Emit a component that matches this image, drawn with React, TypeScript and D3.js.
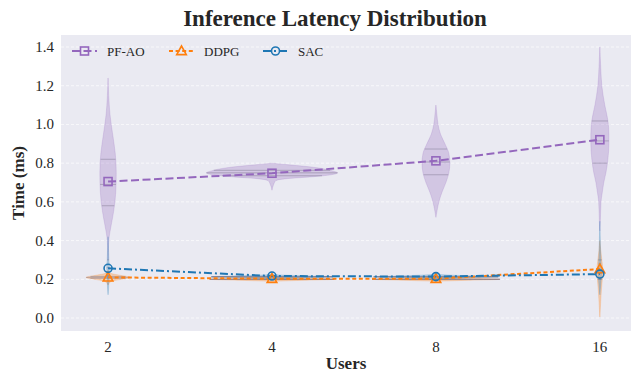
import React, { useMemo } from 'react';
import * as d3 from 'd3';

type Profile = [number, number][]; // [time value, half width as a fraction of one category step]

const users = ['2', '4', '8', '16'];
const yTicks = [0, 0.2, 0.4, 0.6, 0.8, 1.0, 1.2, 1.4];

const pfaoMeans = [0.705, 0.748, 0.812, 0.921];
const ddpgMeans = [0.21, 0.203, 0.203, 0.253];
const sacMeans = [0.257, 0.217, 0.214, 0.227];

const pfaoViolins: Profile[] = [
  [[1.24, 0], [1.15, 0.004], [1.05, 0.012], [0.95, 0.028], [0.85, 0.044], [0.75, 0.05], [0.65, 0.047], [0.55, 0.034], [0.47, 0.017], [0.42, 0.007], [0.36, 0.002], [0.3, 0]],
  [[0.8, 0], [0.79, 0.12], [0.78, 0.24], [0.77, 0.32], [0.76, 0.37], [0.75, 0.4], [0.74, 0.36], [0.73, 0.25], [0.72, 0.09], [0.71, 0.024], [0.69, 0.01], [0.66, 0]],
  [[1.1, 0], [1.05, 0.006], [1.0, 0.013], [0.95, 0.028], [0.9, 0.055], [0.85, 0.079], [0.8, 0.085], [0.75, 0.079], [0.7, 0.061], [0.65, 0.037], [0.6, 0.018], [0.55, 0.006], [0.52, 0]],
  [[1.4, 0], [1.3, 0.005], [1.2, 0.012], [1.1, 0.03], [1.02, 0.049], [0.95, 0.055], [0.9, 0.055], [0.82, 0.049], [0.75, 0.037], [0.7, 0.024], [0.65, 0.015], [0.6, 0.007], [0.5, 0.003], [0.45, 0]],
];
const pfaoQuartiles = [[0.58, 0.69, 0.82], [0.735, 0.75, 0.763], [0.74, 0.806, 0.873], [0.8, 0.915, 1.018]];

const ddpgViolins: Profile[] = [
  [[0.245, 0], [0.23, 0.02], [0.22, 0.08], [0.21, 0.134], [0.2, 0.08], [0.19, 0.02], [0.17, 0]],
  [[0.212, 0], [0.206, 0.2], [0.2, 0.38], [0.195, 0.2], [0.19, 0]],
  [[0.212, 0], [0.206, 0.2], [0.2, 0.39], [0.195, 0.2], [0.19, 0]],
  [[0.4, 0], [0.35, 0.005], [0.3, 0.012], [0.25, 0.018], [0.2, 0.015], [0.15, 0.01], [0.1, 0.006], [0.05, 0.003], [0.005, 0]],
];
const ddpgQuartiles = [[0.205, 0.21, 0.215], [0.2, 0.2, 0.2], [0.2, 0.2, 0.2], [0.2, 0.25, 0.3]];

const sacViolins: Profile[] = [
  [[0.42, 0], [0.35, 0.003], [0.3, 0.005], [0.26, 0.008], [0.2, 0.005], [0.15, 0.003], [0.12, 0]],
  [[0.24, 0], [0.225, 0.01], [0.218, 0.2], [0.213, 0.37], [0.208, 0.2], [0.2, 0]],
  [[0.225, 0], [0.218, 0.2], [0.213, 0.38], [0.208, 0.2], [0.2, 0]],
  [[0.5, 0], [0.4, 0.003], [0.3, 0.006], [0.23, 0.01], [0.18, 0.006], [0.12, 0]],
];
const sacQuartiles = [[0.22, 0.26, 0.3], [0.213, 0.213, 0.213], [0.213, 0.213, 0.213], [0.2, 0.23, 0.28]];

const W = 631;
const H = 372;
const plot = { left: 61, right: 631, top: 35, bottom: 331 };

const series = [
  { name: 'PF-AO', color: '#9467bd', means: pfaoMeans, violins: pfaoViolins, quartiles: pfaoQuartiles, dash: '8,3.5', marker: 'square' },
  { name: 'DDPG', color: '#ff7f0e', means: ddpgMeans, violins: ddpgViolins, quartiles: ddpgQuartiles, dash: '4,2.6', marker: 'triangle' },
  { name: 'SAC', color: '#1f77b4', means: sacMeans, violins: sacViolins, quartiles: sacQuartiles, dash: '8,3,2,3', marker: 'circle' },
];

const serif = '"Liberation Serif", "Times New Roman", serif';

const halfWidthAt = (p: Profile, v: number) => {
  for (let i = 0; i < p.length - 1; i++) {
    const [a, wa] = p[i];
    const [b, wb] = p[i + 1];
    if (v <= a && v >= b) return a === b ? wa : wa + ((a - v) / (a - b)) * (wb - wa);
  }
  return 0;
};

const Marker: React.FC<{ kind: string; x: number; y: number; color: string }> = ({ kind, x, y, color }) => {
  if (kind === 'square') {
    return <rect x={x - 4} y={y - 4} width={8} height={8} fill="none" stroke={color} strokeWidth={1.6} />;
  }
  if (kind === 'triangle') {
    return <path d={`M${x},${y - 5} L${x + 4.8},${y + 3.6} L${x - 4.8},${y + 3.6} Z`} fill="none" stroke={color} strokeWidth={1.6} />;
  }
  return <circle cx={x} cy={y} r={4} fill="none" stroke={color} strokeWidth={1.6} />;
};

const App: React.FC = () => {
  const x = useMemo(() => d3.scaleLinear().domain([-0.287, 3.19]).range([plot.left, plot.right]), []);
  const y = useMemo(() => d3.scaleLinear().domain([-0.067, 1.462]).range([plot.bottom, plot.top]), []);
  const step = x(1) - x(0);

  const line = d3.line<number>()
    .x((_, i) => x(i))
    .y(d => y(d));

  const violinArea = (cx: number) => d3.area<[number, number]>()
    .y(d => y(d[0]))
    .x0(d => cx - d[1] * step)
    .x1(d => cx + d[1] * step)
    .curve(d3.curveMonotoneY);

  const legendX = [72, 169, 263];

  return (
    <svg width={W} height={H} style={{ display: 'block', position: 'absolute', left: 0, top: 0 }}>
      <rect width={W} height={H} fill="#ffffff" />
      <rect x={plot.left} y={plot.top} width={plot.right - plot.left} height={plot.bottom - plot.top} fill="#eaeaf2" />
      <defs>
        <clipPath id="plotClip">
          <rect x={plot.left} y={plot.top} width={plot.right - plot.left} height={plot.bottom - plot.top} />
        </clipPath>
      </defs>

      {yTicks.map(t => (
        <line key={t} x1={plot.left} x2={plot.right} y1={y(t)} y2={y(t)} stroke="#ffffff" strokeOpacity={0.85} strokeWidth={0.8} strokeDasharray="3,2" />
      ))}

      <g clipPath="url(#plotClip)">
        {series.map(s => s.violins.map((p, i) => (
          <g key={`${s.name}-${i}`}>
            <path d={violinArea(x(i))(p) || ''} fill={s.color} fillOpacity={0.28} stroke={s.color} strokeOpacity={0.25} strokeWidth={0.8} />
            {s.quartiles[i].map((q, j) => {
              const hw = halfWidthAt(p, q) * step;
              return <line key={j} x1={x(i) - hw} x2={x(i) + hw} y1={y(q)} y2={y(q)} stroke="#6f6a80" strokeOpacity={0.45} strokeWidth={0.9} />;
            })}
          </g>
        )))}

        {series.map(s => (
          <path key={s.name} d={line(s.means) || ''} fill="none" stroke={s.color} strokeWidth={2} strokeDasharray={s.dash} />
        ))}
        {series.map(s => s.means.map((v, i) => (
          <Marker key={`${s.name}-m${i}`} kind={s.marker} x={x(i)} y={y(v)} color={s.color} />
        )))}
      </g>

      {series.map((s, k) => (
        <g key={`leg-${s.name}`}>
          <line x1={legendX[k]} x2={legendX[k] + 25} y1={51} y2={51} stroke={s.color} strokeWidth={2} strokeDasharray={s.dash} />
          <Marker kind={s.marker} x={legendX[k] + 12.5} y={51} color={s.color} />
          <text x={legendX[k] + 35} y={55.5} fontFamily={serif} fontSize={13} fill="#262626">{s.name}</text>
        </g>
      ))}

      {yTicks.map(t => (
        <text key={`yl${t}`} x={54} y={y(t) + 5} textAnchor="end" fontFamily={serif} fontSize={15} fill="#262626">{t.toFixed(1)}</text>
      ))}
      {users.map((u, i) => (
        <text key={`xl${u}`} x={x(i)} y={352} textAnchor="middle" fontFamily={serif} fontSize={15} fill="#262626">{u}</text>
      ))}

      <text x={(plot.left + plot.right) / 2} y={369} textAnchor="middle" fontFamily={serif} fontSize={17} fontWeight="bold" fill="#262626">Users</text>
      <text transform={`translate(24,${(plot.top + plot.bottom) / 2}) rotate(-90)`} textAnchor="middle" fontFamily={serif} fontSize={17} fontWeight="bold" fill="#262626">Time (ms)</text>
      <text x={335} y={26} textAnchor="middle" fontFamily={serif} fontSize={23} fontWeight="bold" fill="#262626">Inference Latency Distribution</text>
    </svg>
  );
};

export default App;
